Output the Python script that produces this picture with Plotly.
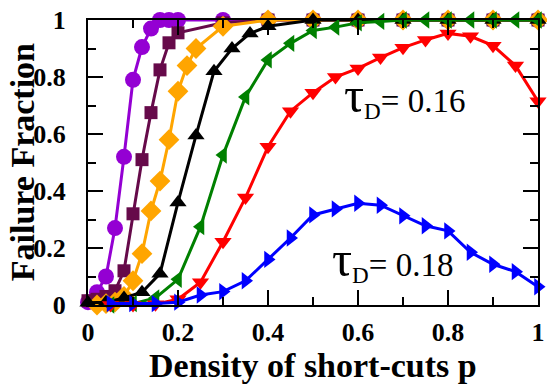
import plotly.graph_objects as go

# ---- data ----
purple_x = [0, 0.02, 0.04, 0.06, 0.08, 0.10, 0.12, 0.14, 0.16, 0.18, 0.20, 0.3, 0.4, 0.5, 0.6, 0.7, 0.8, 0.9, 1.0]
purple_y = [0.01, 0.045, 0.10, 0.27, 0.52, 0.79, 0.905, 0.97, 1.0, 1.0, 1.0, 1.0, 1.0, 1.0, 1.0, 1.0, 1.0, 1.0, 1.0]

maroon_x = [0, 0.02, 0.04, 0.06, 0.08, 0.10, 0.12, 0.14, 0.16, 0.18, 0.20, 0.3, 0.4, 0.5, 0.6, 0.7, 0.8, 0.9, 1.0]
maroon_y = [0.015, 0.02, 0.03, 0.05, 0.12, 0.32, 0.51, 0.675, 0.825, 0.92, 0.955, 0.99, 1.0, 1.0, 1.0, 1.0, 1.0, 1.0, 1.0]

orange_x = [0.02, 0.04, 0.06, 0.08, 0.10, 0.12, 0.14, 0.16, 0.18, 0.20, 0.22, 0.24, 0.3, 0.4, 0.5, 0.6, 0.7, 0.8, 0.9, 1.0]
orange_y = [0.0, 0.005, 0.01, 0.03, 0.085, 0.18, 0.33, 0.435, 0.58, 0.75, 0.84, 0.9, 0.978, 1.0, 1.0, 1.0, 1.0, 1.0, 1.0, 1.0]

black_x = [0, 0.04, 0.08, 0.12, 0.16, 0.20, 0.24, 0.28, 0.32, 0.36, 0.40, 0.5, 0.6, 0.7, 0.8, 0.9, 1.0]
black_y = [0.008, 0.01, 0.025, 0.045, 0.11, 0.36, 0.595, 0.82, 0.9, 0.953, 0.978, 1.0, 1.0, 1.0, 1.0, 1.0, 1.0]

p20 = [0.05, 0.10, 0.15, 0.20, 0.25, 0.30, 0.35, 0.40, 0.45, 0.50,
       0.55, 0.60, 0.65, 0.70, 0.75, 0.80, 0.85, 0.90, 0.95, 1.0]
green_y = [0.0, 0.005, 0.025, 0.09, 0.275, 0.526, 0.73, 0.86, 0.918, 0.963,
           0.975, 0.99, 0.995, 1.0, 1.0, 1.0, 1.0, 1.0, 1.0, 1.0]
red_y = [0.0, 0.0, 0.003, 0.02, 0.08, 0.222, 0.377, 0.555, 0.68, 0.745,
         0.8, 0.83, 0.868, 0.903, 0.93, 0.953, 0.943, 0.91, 0.84, 0.715]
blue_y = [0.005, 0.005, 0.005, 0.01, 0.035, 0.047, 0.085, 0.16, 0.235, 0.316,
          0.337, 0.357, 0.35, 0.313, 0.278, 0.26, 0.185, 0.143, 0.117, 0.064]

x_tick_vals = [0, 0.2, 0.4, 0.6, 0.8, 1.0]
x_tick_text = ["0", "0.2", "0.4", "0.6", "0.8", "1"]
y_tick_vals = [0, 0.2, 0.4, 0.6, 0.8, 1.0]
y_tick_text = ["0", "0.2", "0.4", "0.6", "0.8", "1"]

x_title = "Density of short-cuts p"
y_title = "Failure Fraction"
labels = ["= 0.16", "= 0.18"]

series = [
    (purple_x, purple_y, "#9400D3", "circle", 16),
    (maroon_x, maroon_y, "#660A4A", "square", 13),
    (orange_x, orange_y, "#FFA500", "diamond", 16),
    (black_x, black_y, "#000000", "triangle-up", 15),
    (p20, green_y, "#008000", "triangle-left", 15),
    (p20, red_y, "#FF0000", "triangle-down", 15),
    (p20, blue_y, "#0000FF", "triangle-right", 15),
]

SERIF = "Liberation Serif, Times New Roman, serif"

fig = go.Figure()
for xs, ys, col, sym, sz in series:
    fig.add_trace(go.Scatter(
        x=xs, y=ys, mode="lines+markers",
        line=dict(color=col, width=3),
        marker=dict(color=col, symbol=sym, size=sz, line=dict(width=0)),
        cliponaxis=False, showlegend=False, hoverinfo="skip",
    ))

axis_common = dict(
    range=[0, 1], showgrid=False, zeroline=False, automargin=False,
    showline=True, linecolor="black", linewidth=2, mirror="ticks",
    ticks="inside", ticklen=15, tickwidth=1.5, tickcolor="black",
    tickfont=dict(family=SERIF, size=26, color="black", weight="bold"),
    minor=dict(ticks="inside", ticklen=8, tickwidth=1.5, tickcolor="black", dtick=0.1),
)

fig.update_xaxes(**axis_common, tickvals=x_tick_vals, ticktext=x_tick_text,
                 ticklabelstandoff=3)
fig.update_yaxes(**axis_common, tickvals=y_tick_vals, ticktext=y_tick_text,
                 ticklabelstandoff=15)

title_font = dict(family=SERIF, size=34, color="black", weight="bold")
fig.add_annotation(x=0.5, y=-0.214, xref="paper", yref="paper", showarrow=False,
                   xanchor="center", yanchor="middle", text=x_title, font=title_font)
fig.add_annotation(x=-0.145, y=0.5, xref="paper", yref="paper", showarrow=False,
                   xanchor="center", yanchor="middle", textangle=-90,
                   text=y_title, font=title_font)

for lab, xc, yc in [(labels[0], 0.704, 0.735), (labels[1], 0.677, 0.158)]:
    fig.add_annotation(x=xc, y=yc, xref="x", yref="y", showarrow=False,
                       xanchor="center", yanchor="middle",
                       text="<span style='font-size:50px'>τ</span><sub>D</sub>" + lab,
                       font=dict(family=SERIF, size=33, color="black"))

fig.update_layout(
    width=547, height=385,
    margin=dict(l=88, r=9, t=20, b=80, autoexpand=False),
    paper_bgcolor="white", plot_bgcolor="white",
)

fig.write_html("out.html", config={"displayModeBar": False},
               post_script="document.body.style.margin='0px';")
